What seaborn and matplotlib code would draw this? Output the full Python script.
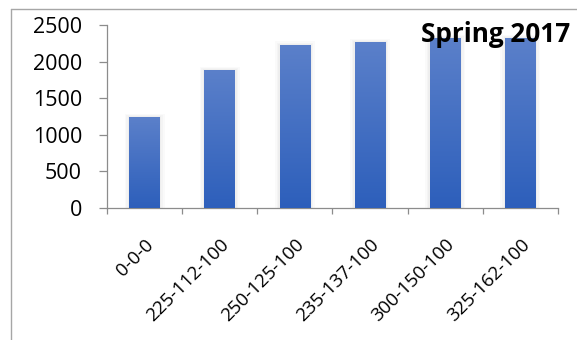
import numpy as np
import pandas as pd
import matplotlib
matplotlib.use("Agg")
import matplotlib.pyplot as plt
import seaborn as sns
from matplotlib.lines import Line2D

categories = ["0-0-0", "225-112-100", "250-125-100", "235-137-100", "300-150-100", "325-162-100"]
values = [1240, 1885, 2230, 2268, 2320, 2322]
yticks = [0, 500, 1000, 1500, 2000, 2500]
title = "Spring 2017"

sns.set_theme(style="white")
plt.rcParams["font.family"] = ["Open Sans", "DejaVu Sans"]

fig = plt.figure(figsize=(5.77, 3.40), dpi=100)
W, H = 577, 340
ax = fig.add_axes([107 / W, (H - 208) / H, (558 - 107) / W, (208 - 25) / H])

df = pd.DataFrame({"cat": categories, "val": values})
sns.barplot(data=df, x="cat", y="val", ax=ax, color="#3A6BC4", width=0.41,
            saturation=1, edgecolor="none")

# gradient fill on bars
grad = np.linspace(0, 1, 256).reshape(-1, 1)
cmap = matplotlib.colors.LinearSegmentedColormap.from_list("g", ["#2D5FBB", "#5B80CA"])
for p in ax.patches:
    x0, y0 = p.get_x(), p.get_y()
    w, h = p.get_width(), p.get_height()
    # soft shadow
    for k, a in enumerate([0.05, 0.04, 0.03]):
        sh = plt.Rectangle((x0 - 0.02 * (k + 1), y0), w + 0.04 * (k + 1), h + 15 * (k + 1),
                           color="#777777", alpha=a, zorder=1, lw=0)
        ax.add_patch(sh)
    im = ax.imshow(grad, extent=[x0, x0 + w, y0, y0 + h], origin="lower", aspect="auto",
                   cmap=cmap, zorder=3)
    im.set_clip_path(p)

ax.set_xlim(-0.5, len(categories) - 0.5)
ax.set_ylim(0, 2500)
ax.set_yticks(yticks)
ax.set_yticklabels([str(t) for t in yticks], fontsize=15.5)
ax.set_xticks(range(len(categories)))
ax.set_xticklabels(categories, fontsize=13.5, rotation=45, ha="right",
                   rotation_mode="anchor")
ax.set_xlabel("")
ax.set_ylabel("")

for s in ["top", "right"]:
    ax.spines[s].set_visible(False)
for s in ["left", "bottom"]:
    ax.spines[s].set_color("#8C8C8C")
    ax.spines[s].set_linewidth(0.9)

ax.tick_params(axis="y", which="major", direction="out", length=6, width=0.9,
               color="#8C8C8C", left=True, pad=12, labelcolor="black")
ax.tick_params(axis="x", which="major", length=0, pad=20, labelcolor="black")
ax.set_xticks(np.arange(-0.5, len(categories), 1.0), minor=True)
ax.tick_params(axis="x", which="minor", direction="out", length=4, width=0.9,
               color="#8C8C8C", bottom=True)

fig.text(421 / W, (H - 34) / H, title, fontsize=18.8, fontweight="bold",
         ha="left", va="center", color="black")

# outer chart frame (cropped)
fig.add_artist(Line2D([11.5 / W, 11.5 / W], [0, (H - 9) / H], color="#A6A6A6", lw=1,
                      transform=fig.transFigure))
fig.add_artist(Line2D([11.5 / W, 1], [(H - 9) / H, (H - 9) / H], color="#A6A6A6", lw=1,
                      transform=fig.transFigure))

fig.savefig("out.png", dpi=100)
